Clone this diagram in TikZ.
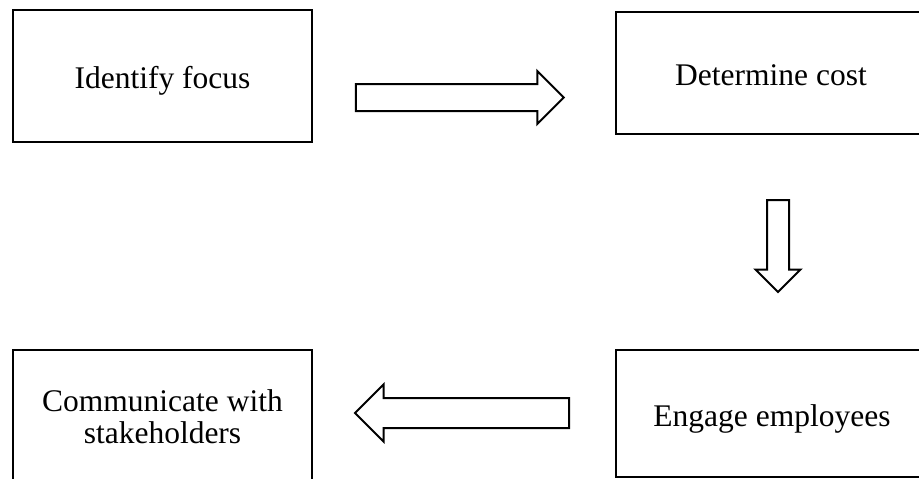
\documentclass[tikz,border=0pt]{standalone}
\usepackage{fontspec}
\setmainfont{Liberation Serif}
\usetikzlibrary{shapes.arrows}

\begin{document}
\begin{tikzpicture}[x=1pt,y=-1pt,
  every node/.style={font=\fontsize{31.5}{32}\selectfont},
  stepbox/.style={draw,line width=2pt,inner sep=0pt,align=center},
  lowtext/.style={text height=32pt,text depth=7pt},
  blockarrow/.style={single arrow,draw,line width=2pt,inner xsep=0pt,
    single arrow head extend=13pt}]
\useasboundingbox (0, 0) rectangle (919, 479);
\node[stepbox,lowtext,minimum width=299pt,minimum height=132pt] (focus) at (162.5, 76) {Identify focus};
\node[stepbox,lowtext,minimum width=310pt,minimum height=122pt] (cost) at (771, 73) {Determine cost};
\node[stepbox,lowtext,minimum width=312pt,minimum height=127pt] (engage) at (772, 413.5) {Engage employees};
\node[stepbox,minimum width=299pt,minimum height=134pt] (talk) at (162.5, 417) {Communicate with\\stakeholders};

\node[blockarrow,inner ysep=12.5pt,minimum height=208pt] (r) at (453, 97.5) {};
\node[blockarrow,inner ysep=10pt,minimum height=92pt,
  single arrow head extend=11.5pt,rotate=-90] (d) at (778, 240.5) {};
\node[blockarrow,inner ysep=14pt,minimum height=214pt,
  single arrow head extend=13.5pt,rotate=180] (l) at (469.5, 413) {};
\end{tikzpicture}
\end{document}
